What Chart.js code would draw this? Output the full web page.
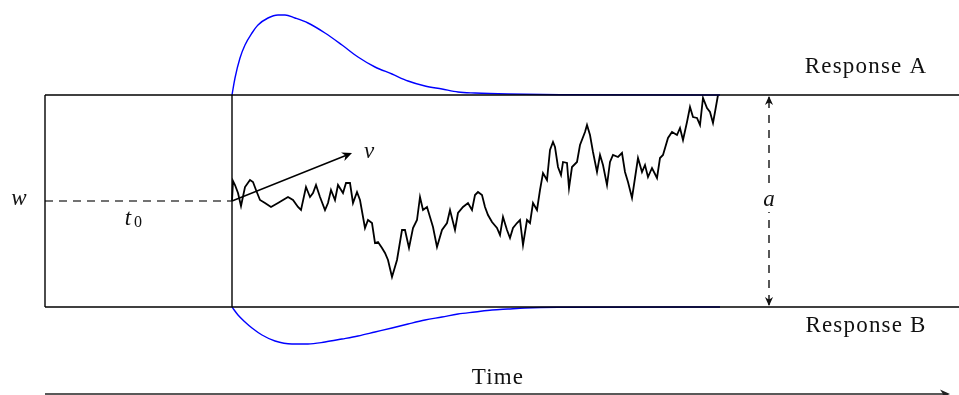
<!DOCTYPE html>
<html>
<head>
<meta charset="utf-8">
<script src="https://cdn.jsdelivr.net/npm/chart.js@4/dist/chart.umd.min.js"></script>
<style>
  html, body { margin: 0; padding: 0; background: #fff; }
  canvas { display: block; }
</style>
</head>
<body>
<canvas id="c" width="959" height="395"></canvas>
<script>
// Diffusion model sketch: time in ms, evidence in arbitrary units.
const upperBound = 2.12;      // a
const lowerBound = 0;
const startPoint = 1.06;      // w
const nonDecisionTime = 187;  // t0
const timeEnd = 914;
const timeArrowEnd = 905;
const driftArrowEnd = [307, 1.54];   // v direction from (t0, w)
const separationAt = 724;            // where a is marked

// One sample path of the accumulated evidence
const walkTime = [187,188,190,193,196,200,205,208,211,215,220,226,233,238,243,248,253,256,261,265,
  268,271,275,280,283,286,290,293,298,301,305,308,312,315,320,323,327,330,333,337,
  340,343,347,352,357,360,364,368,372,375,378,382,385,388,392,397,402,405,410,413,
  418,423,427,430,433,437,440,443,447,452,455,458,462,465,468,472,475,478,482,485,
  488,492,495,498,502,505,508,510,513,516,518,522,524,527,532,535,540,542,545,548,
  552,555,558,562,565,568,573,577,580,583,587,590,593,597,600,603,607,612,615,618,
  623,627,632,635,638,642,645,648,652,655,658,662,665,668,670,673];
const walkEvidence = [1.06,1.26,1.22,1.14,1.01,1.20,1.27,1.25,1.17,1.07,1.04,1.00,1.04,1.07,1.10,1.07,1.00,0.97,1.20,1.10,
  1.14,1.22,1.10,0.97,1.04,1.17,1.07,1.22,1.14,1.24,1.24,1.04,1.15,1.07,0.79,0.87,0.84,0.64,0.65,0.59,
  0.54,0.47,0.30,0.47,0.77,0.77,0.59,0.79,0.87,1.10,0.97,1.00,0.90,0.80,0.60,0.77,0.84,0.97,0.77,0.94,
  1.00,1.04,0.97,1.12,1.15,1.12,1.00,0.92,0.85,0.79,0.72,0.90,0.77,0.69,0.79,0.84,0.87,0.62,0.87,0.84,
  1.04,0.97,1.17,1.34,1.27,1.57,1.65,1.60,1.40,1.32,1.45,1.44,1.19,1.40,1.45,1.62,1.75,1.82,1.72,1.55,
  1.35,1.52,1.42,1.22,1.45,1.52,1.50,1.54,1.35,1.25,1.09,1.29,1.49,1.35,1.42,1.30,1.39,1.29,1.49,1.52,
  1.69,1.75,1.72,1.79,1.67,1.85,2.00,1.90,1.89,1.82,2.09,1.99,1.95,1.84,1.95,2.12];

// First-passage time densities at each bound
const densityATime = [187,190,195,200,207,213,223,233,240,250,263,280,297,313,330,347,363,380,397,413,430,463,515,675];
const densityA = [0,0.17,0.37,0.50,0.62,0.70,0.77,0.80,0.80,0.77,0.72,0.62,0.50,0.38,0.28,0.21,0.14,0.09,0.06,0.03,0.02,0.01,0.003,0];
const densityBTime = [187,193,200,207,217,230,247,263,280,297,313,330,347,363,380,397,413,430,447,463,480,513,675];
const densityB = [0,0.08,0.15,0.21,0.28,0.34,0.37,0.37,0.35,0.32,0.29,0.25,0.21,0.17,0.13,0.10,0.07,0.05,0.03,0.02,0.01,0.003,0];

const responseLabels = ['Response A', 'Response B'];
const timeLabel = 'Time';

const seg = (x0, y0, x1, y1) => [{x: x0, y: y0}, {x: x1, y: y1}];
const lineSet = (data, color, width, dash) => ({
  data, showLine: true, borderColor: color, borderWidth: width, borderDash: dash || [],
  pointRadius: 0, fill: false, tension: 0
});

const walk = walkTime.map((t, i) => ({x: t, y: walkEvidence[i]}));
const curveA = densityATime.map((t, i) => ({x: t, y: upperBound + densityA[i]}));
const curveB = densityBTime.map((t, i) => ({x: t, y: lowerBound - densityB[i]}));

const datasets = [
  lineSet(seg(0, upperBound, timeEnd, upperBound), '#000', 1.6),
  lineSet(seg(0, lowerBound, timeEnd, lowerBound), '#000', 1.6),
  lineSet(seg(0, lowerBound, 0, upperBound), '#000', 1.4),
  lineSet(seg(nonDecisionTime, lowerBound, nonDecisionTime, upperBound), '#000', 1.4),
  lineSet(seg(0, startPoint, nonDecisionTime, startPoint), '#444', 1.4, [8, 6]),
  Object.assign(lineSet(curveA, '#0000ff', 1.4), {cubicInterpolationMode: 'monotone'}),
  Object.assign(lineSet(curveB, '#0000ff', 1.4), {cubicInterpolationMode: 'monotone'}),
  lineSet(walk, '#000', 1.8)
];

function arrowHead(ctx, x, y, ang, len, color) {
  ctx.save();
  ctx.translate(x, y);
  ctx.rotate(ang);
  ctx.fillStyle = color;
  ctx.beginPath();
  ctx.moveTo(0, 0);
  ctx.lineTo(-len, -len * 0.45);
  ctx.lineTo(-len * 0.7, 0);
  ctx.lineTo(-len, len * 0.45);
  ctx.closePath();
  ctx.fill();
  ctx.restore();
}

const annotations = {
  id: 'annotations',
  afterDatasetsDraw(chart) {
    const {ctx} = chart;
    const sx = chart.scales.x, sy = chart.scales.y;
    const X = v => sx.getPixelForValue(v), Y = v => sy.getPixelForValue(v);
    ctx.save();

    // drift arrow v
    const x0 = X(nonDecisionTime), y0 = Y(startPoint);
    const x1 = X(driftArrowEnd[0]), y1 = Y(driftArrowEnd[1]);
    const ang = Math.atan2(y1 - y0, x1 - x0);
    ctx.strokeStyle = '#000';
    ctx.lineWidth = 1.4;
    ctx.beginPath();
    ctx.moveTo(x0, y0);
    ctx.lineTo(x1 - 4 * Math.cos(ang), y1 - 4 * Math.sin(ang));
    ctx.stroke();
    arrowHead(ctx, x1, y1, ang, 10, '#000');

    // boundary separation a
    const xa = X(separationAt), ya = Y(upperBound), yb = Y(lowerBound);
    ctx.strokeStyle = '#111';
    ctx.lineWidth = 1.4;
    ctx.setLineDash([8, 7]);
    ctx.beginPath();
    ctx.moveTo(xa, ya + 5);
    ctx.lineTo(xa, yb - 5);
    ctx.stroke();
    ctx.setLineDash([]);
    ctx.beginPath();
    ctx.moveTo(xa, ya + 2); ctx.lineTo(xa, ya + 8);
    ctx.moveTo(xa, yb - 2); ctx.lineTo(xa, yb - 8);
    ctx.stroke();
    arrowHead(ctx, xa, ya + 1, -Math.PI / 2, 9, '#111');
    arrowHead(ctx, xa, yb - 1, Math.PI / 2, 9, '#111');
    const ym = Y((upperBound + lowerBound) / 2);
    ctx.fillStyle = '#fff';
    ctx.fillRect(xa - 8, ym - 11, 16, 22);

    // time axis
    const yt = Y(-0.87);
    ctx.strokeStyle = '#222';
    ctx.lineWidth = 1.5;
    ctx.beginPath();
    ctx.moveTo(X(0), yt);
    ctx.lineTo(X(timeArrowEnd) - 4, yt);
    ctx.stroke();
    arrowHead(ctx, X(timeArrowEnd), yt, 0, 10, '#222');

    // text
    ctx.fillStyle = '#111';
    ctx.textAlign = 'center';
    ctx.textBaseline = 'middle';
    ctx.font = '23px "Liberation Serif", serif';
    ctx.letterSpacing = '1.2px';
    ctx.fillText(responseLabels[0], X(821), Y(2.40));
    ctx.fillText(responseLabels[1], X(821), Y(-0.19));
    ctx.fillText(timeLabel, X(453), Y(-0.71));
    ctx.letterSpacing = '0px';

    ctx.font = 'italic 23px "Liberation Serif", serif';
    ctx.fillText('w', X(-26), Y(1.08));
    ctx.fillText('v', X(324), Y(1.55));
    ctx.fillText('a', xa, ym - 1);
    ctx.fillText('t', X(83), Y(0.88));
    ctx.font = '16px "Liberation Serif", serif';
    ctx.fillText('0', X(93), Y(0.84));
    ctx.restore();
  }
};

new Chart(document.getElementById('c'), {
  type: 'scatter',
  data: {datasets},
  options: {
    responsive: false,
    animation: false,
    devicePixelRatio: 1,
    layout: {padding: 0},
    plugins: {legend: {display: false}, tooltip: {enabled: false}},
    scales: {
      x: {type: 'linear', min: -45, max: 914, display: false},
      y: {type: 'linear', min: -0.88, max: 3.07, display: false}
    }
  },
  plugins: [annotations]
});
</script>
</body>
</html>
